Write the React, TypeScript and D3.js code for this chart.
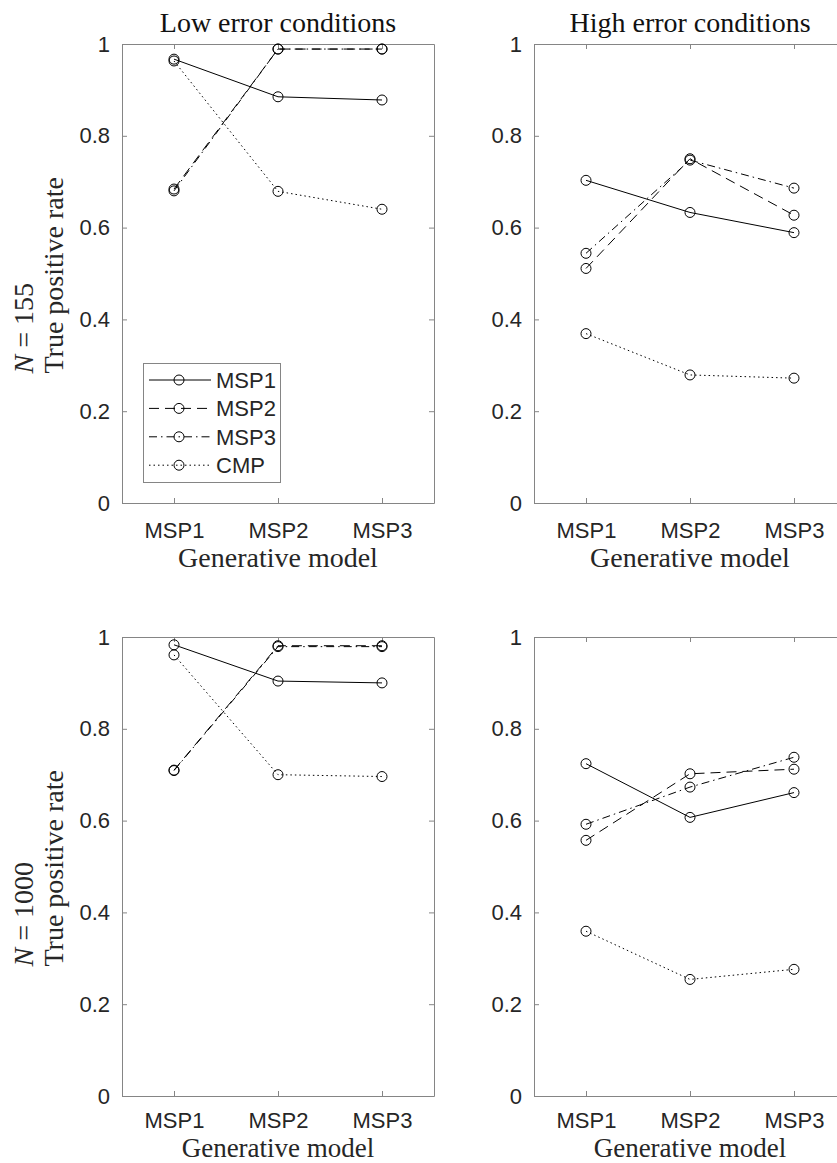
import { useEffect, useRef } from 'react';
import * as d3 from 'd3';

// categories and tick labels
const generativeModels = ['MSP1', 'MSP2', 'MSP3'];
const methods = ['MSP1', 'MSP2', 'MSP3', 'CMP'];
const yTicks = [0, 0.2, 0.4, 0.6, 0.8, 1];
const columnTitles = ['Low error conditions', 'High error conditions'];
const sampleSizes = ['155', '1000'];

// N = 155, low error
const low155_MSP1 = [0.967, 0.885, 0.878];
const low155_MSP2 = [0.684, 0.989, 0.989];
const low155_MSP3 = [0.680, 0.989, 0.989];
const low155_CMP = [0.963, 0.679, 0.640];

// N = 155, high error
const high155_MSP1 = [0.703, 0.633, 0.589];
const high155_MSP2 = [0.511, 0.750, 0.627];
const high155_MSP3 = [0.544, 0.747, 0.686];
const high155_CMP = [0.369, 0.279, 0.272];

// N = 1000, low error
const low1000_MSP1 = [0.983, 0.904, 0.900];
const low1000_MSP2 = [0.710, 0.981, 0.981];
const low1000_MSP3 = [0.709, 0.979, 0.979];
const low1000_CMP = [0.961, 0.700, 0.696];

// N = 1000, high error
const high1000_MSP1 = [0.724, 0.607, 0.661];
const high1000_MSP2 = [0.557, 0.702, 0.712];
const high1000_MSP3 = [0.592, 0.673, 0.738];
const high1000_CMP = [0.359, 0.254, 0.276];

const dashes = [null, '10,6', '8,4,1.5,4', '1.5,3'];

const panels = [
  { row: 0, col: 0, series: [low155_MSP1, low155_MSP2, low155_MSP3, low155_CMP], legend: true },
  { row: 0, col: 1, series: [high155_MSP1, high155_MSP2, high155_MSP3, high155_CMP], legend: false },
  { row: 1, col: 0, series: [low1000_MSP1, low1000_MSP2, low1000_MSP3, low1000_CMP], legend: false },
  { row: 1, col: 1, series: [high1000_MSP1, high1000_MSP2, high1000_MSP3, high1000_CMP], legend: false },
];

const sansFont = '"Liberation Sans", Arial, sans-serif';
const serifFont = '"Liberation Serif", "Times New Roman", serif';
const axisColor = '#858585';
const textColor = '#262626';

function App() {
  const svgRef = useRef(null);

  useEffect(() => {
    const W = 837;
    const H = 1163;
    const lefts = [122, 534];
    const tops = [44, 637];
    const pw = 312;
    const ph = 459;

    d3.select(svgRef.current).selectAll('*').remove();
    const svg = d3.select(svgRef.current).attr('width', W).attr('height', H);

    const x = d3.scaleLinear().domain([0.5, 3.5]).range([0, pw]);
    const y = d3.scaleLinear().domain([0, 1]).range([ph, 0]);

    const line = d3.line<number>()
      .x((_, i) => x(i + 1))
      .y(d => y(d));

    panels.forEach(p => {
      const g = svg.append('g')
        .attr('transform', `translate(${lefts[p.col]},${tops[p.row]})`);

      // box with inward ticks
      const styleAxis = sel => {
        sel.select('.domain').attr('stroke', axisColor).attr('stroke-width', 1);
        sel.selectAll('.tick line').attr('stroke', axisColor).attr('stroke-width', 1);
        sel.selectAll('text')
          .attr('fill', textColor)
          .style('font-family', sansFont)
          .style('font-size', '22px');
      };

      g.append('g')
        .call(d3.axisLeft(y).tickValues(yTicks).tickSizeInner(-5).tickSizeOuter(0)
          .tickPadding(12).tickFormat(d => String(d)))
        .call(styleAxis);

      g.append('g')
        .attr('transform', `translate(${pw},0)`)
        .call(d3.axisRight(y).tickValues(yTicks).tickSizeInner(-5).tickSizeOuter(0)
          .tickFormat(() => ''))
        .call(styleAxis);

      g.append('g')
        .call(d3.axisTop(x).tickValues([1, 2, 3]).tickSizeInner(-5).tickSizeOuter(0)
          .tickFormat(() => ''))
        .call(styleAxis);

      g.append('g')
        .attr('transform', `translate(0,${ph})`)
        .call(d3.axisBottom(x).tickValues([1, 2, 3]).tickSizeInner(-5).tickSizeOuter(0)
          .tickPadding(p.row === 0 ? 19 : 16).tickFormat(d => generativeModels[+d - 1]))
        .call(styleAxis);

      // series
      p.series.forEach((vals, si) => {
        g.append('path')
          .datum(vals)
          .attr('d', line)
          .attr('fill', 'none')
          .attr('stroke', '#000')
          .attr('stroke-width', 1)
          .attr('stroke-dasharray', dashes[si]);

        g.selectAll(null)
          .data(vals)
          .join('circle')
          .attr('cx', (_, i) => x(i + 1))
          .attr('cy', d => y(d))
          .attr('r', 5)
          .attr('fill', 'none')
          .attr('stroke', '#000')
          .attr('stroke-width', 1);
      });

      // x label
      g.append('text')
        .attr('x', pw / 2)
        .attr('y', ph + (p.row === 0 ? 64 : 61))
        .attr('text-anchor', 'middle')
        .attr('fill', textColor)
        .style('font-family', serifFont)
        .style('font-size', p.row === 0 ? '28px' : '27px')
        .text('Generative model');

      // column title
      if (p.row === 0) {
        g.append('text')
          .attr('x', pw / 2)
          .attr('y', -12)
          .attr('text-anchor', 'middle')
          .attr('fill', '#111')
          .style('font-family', serifFont)
          .style('font-size', '28px')
          .text(columnTitles[p.col]);
      }

      // y label (two lines)
      if (p.col === 0) {
        const cy = ph / 2 + 100;
        const nLabel = g.append('text')
          .attr('transform', `translate(${33 - lefts[0]},${cy}) rotate(-90)`)
          .attr('fill', textColor)
          .style('font-family', serifFont)
          .style('font-size', '28px');
        nLabel.append('tspan').style('font-style', 'italic').text('N');
        nLabel.append('tspan').text(` = ${sampleSizes[p.row]}`);

        g.append('text')
          .attr('transform', `translate(${63 - lefts[0]},${cy}) rotate(-90)`)
          .attr('fill', textColor)
          .style('font-family', serifFont)
          .style('font-size', '28px')
          .text('True positive rate');
      }

      // legend
      if (p.legend) {
        const lg = g.append('g').attr('transform', 'translate(21,319)');
        lg.append('rect')
          .attr('x', 0.5).attr('y', 0.5)
          .attr('width', 137).attr('height', 119)
          .attr('fill', '#fff')
          .attr('stroke', axisColor)
          .attr('stroke-width', 1);
        methods.forEach((m, i) => {
          const ry = 17 + i * 28.4;
          lg.append('line')
            .attr('x1', 6).attr('x2', 68)
            .attr('y1', ry).attr('y2', ry)
            .attr('stroke', '#000')
            .attr('stroke-width', 1)
            .attr('stroke-dasharray', dashes[i]);
          lg.append('circle')
            .attr('cx', 36).attr('cy', ry).attr('r', 5)
            .attr('fill', 'none').attr('stroke', '#000').attr('stroke-width', 1);
          lg.append('text')
            .attr('x', 73).attr('y', ry)
            .attr('dy', '0.36em')
            .attr('fill', textColor)
            .style('font-family', sansFont)
            .style('font-size', '22px')
            .text(m);
        });
      }
    });
  }, []);

  return (
    <div style={{ position: 'absolute', left: 0, top: 0 }}>
      <svg ref={svgRef} style={{ display: 'block' }}></svg>
    </div>
  );
}

export default App;
